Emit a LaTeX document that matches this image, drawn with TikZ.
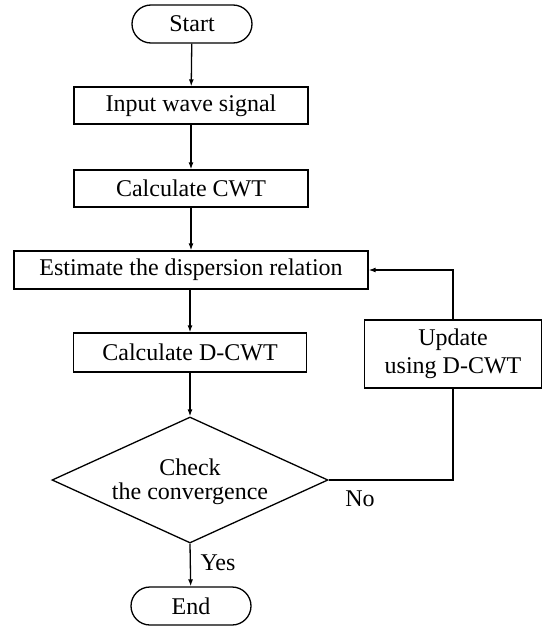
\documentclass[tikz,border=0pt]{standalone}
\usepackage{fontspec}
\setmainfont{Liberation Serif}
\usetikzlibrary{shapes.geometric,shapes.misc,arrows.meta}
\begin{document}
\begin{tikzpicture}[x=1pt,y=-1pt,
  every node/.style={font=\fontsize{24}{28}\selectfont, inner sep=0pt},
  box/.style={draw, line width=1.3pt, rectangle, align=center},
  term/.style={draw, line width=1.3pt, rounded rectangle, minimum width=120pt, minimum height=38pt},
  decide/.style={draw, line width=1.3pt, diamond, minimum width=276pt, minimum height=126pt, align=center},
  flow/.style={line width=1.3pt, -{Latex[length=7pt,width=5pt]}},
  plain/.style={line width=1.3pt}]
\useasboundingbox (0,0) rectangle (542,626);
\node[term] (start) at (192,24) {Start};
\node[box, minimum width=234pt, minimum height=37pt] (input) at (191,105.5) {Input wave signal};
\node[box, minimum width=234pt, minimum height=37pt] (cwt) at (191,188.5) {Calculate CWT};
\node[box, minimum width=354pt, minimum height=38pt] (est) at (191,270) {Estimate the dispersion relation};
\node[box, minimum width=233pt, minimum height=39pt] (dcwt) at (190,352.5) {Calculate D-CWT};
\node[decide] (chk) at (190,480) {};
\node (chk1) at (190,467) {Check};
\node (chk2) at (190,494) {the convergence};
\node[box, minimum width=177pt, minimum height=68pt] (upd) at (453,354) {};
\node (upd1) at (453,340) {Update};
\node (upd2) at (453,368) {using D-CWT};
\node[term] (end) at (191,606) {End};
\node (no) at (360,499) {No};
\node (yes) at (218,563) {Yes};
\draw[flow] (start) -- (input);
\draw[flow] (input) -- (cwt);
\draw[flow] (cwt) -- (est);
\draw[flow] (est.south -| dcwt.north) -- (dcwt);
\draw[flow] (dcwt) -- (chk.north);
\draw[flow] (chk.south) -- (end);
\draw[plain] (chk.east) -| (upd.south);
\draw[flow] (upd.north) |- (est.east);
\end{tikzpicture}
\end{document}
